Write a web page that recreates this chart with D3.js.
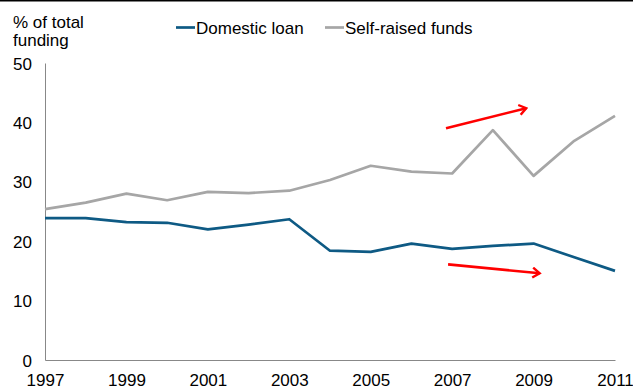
<!DOCTYPE html>
<html>
<head>
<meta charset="utf-8">
<script src="https://cdn.jsdelivr.net/npm/d3@7"></script>
<style>
  body { margin: 0; background: #fff; }
  text { font-family: "Liberation Sans", Arial, sans-serif; fill: #000; }
</style>
</head>
<body>
<svg id="chart" width="633" height="390"></svg>
<script>
// data
var years = [1997, 1998, 1999, 2000, 2001, 2002, 2003, 2004, 2005, 2006, 2007, 2008, 2009, 2010, 2011];
var domesticLoan = [23.9, 23.9, 23.2, 23.1, 22.0, 22.8, 23.7, 18.4, 18.2, 19.6, 18.7, 19.2, 19.6, 17.3, 15.0];
var selfRaised = [25.4, 26.5, 28.0, 26.9, 28.3, 28.1, 28.5, 30.3, 32.7, 31.7, 31.4, 38.7, 31.0, 36.9, 41.1];
var yTicks = [0, 10, 20, 30, 40, 50];
var xTicks = [1997, 1999, 2001, 2003, 2005, 2007, 2009, 2011];
var seriesNames = ["Domestic loan", "Self-raised funds"];
var seriesColors = ["#0e5a84", "#a6a6a6"];
// trend arrows: [x0, y0, x1, y1] in data units
var arrows = [
    [2006.85, 39.0, 2008.82, 42.4],
    [2006.9, 16.1, 2009.15, 14.6]
];

var svg = d3.select("#chart"),
    width = +svg.attr("width"),
    height = +svg.attr("height");

var x = d3.scaleLinear().domain([1997, 2011]).range([45, 615]);
var y = d3.scaleLinear().domain([0, 50]).range([360, 63]);

// black rule at top
svg.append("line")
    .attr("x1", 0).attr("x2", width)
    .attr("y1", 0.75).attr("y2", 0.75)
    .style("stroke", "#000")
    .style("stroke-width", 1.5);

// axes
var yAxis = d3.axisLeft(y).tickValues(yTicks).tickSize(0).tickPadding(13);
svg.append("g")
    .attr("transform", "translate(45,0)")
    .call(yAxis)
    .call(g => g.select(".domain").attr("stroke", "#888"))
    .call(g => g.selectAll("text").style("font-size", "17px").attr("dy", "0.36em"));

var xAxis = d3.axisBottom(x).tickValues(xTicks).tickFormat(d3.format("d")).tickSize(0).tickPadding(14);
svg.append("g")
    .attr("transform", "translate(0,360)")
    .call(xAxis)
    .call(g => g.select(".domain").attr("stroke", "#888"))
    .call(g => g.selectAll("text").style("font-size", "17px"));

// y title
svg.append("text")
    .attr("x", 13).attr("y", 28)
    .style("font-size", "17px")
    .text("% of total");
svg.append("text")
    .attr("x", 13).attr("y", 45.5)
    .style("font-size", "17px")
    .text("funding");

// lines
var line = d3.line()
    .x((d, i) => x(years[i]))
    .y(d => y(d));

[selfRaised, domesticLoan].forEach(function(s, k) {
    svg.append("path")
        .datum(s)
        .attr("fill", "none")
        .attr("stroke", k === 0 ? seriesColors[1] : seriesColors[0])
        .attr("stroke-width", 2.7)
        .attr("stroke-linejoin", "round")
        .attr("d", line);
});

// legend
var legendX = [176, 325];
seriesNames.forEach(function(n, i) {
    svg.append("line")
        .attr("x1", legendX[i]).attr("x2", legendX[i] + 19)
        .attr("y1", 27.5).attr("y2", 27.5)
        .style("stroke", seriesColors[i])
        .style("stroke-width", 2.7);
    svg.append("text")
        .attr("x", legendX[i] + 20).attr("y", 34)
        .style("font-size", "17px")
        .text(n);
});

// red arrows
svg.append("defs").append("marker")
    .attr("id", "arrowhead")
    .attr("viewBox", "0 0 12 12")
    .attr("refX", 10).attr("refY", 6)
    .attr("markerWidth", 12).attr("markerHeight", 12)
    .attr("markerUnits", "userSpaceOnUse")
    .attr("orient", "auto")
    .append("path")
    .attr("d", "M3,1 L10,6 L3,11")
    .attr("fill", "none")
    .attr("stroke", "#ff0000")
    .attr("stroke-width", 2.4);

svg.selectAll(".arrow")
    .data(arrows)
    .enter()
    .append("line")
    .attr("class", "arrow")
    .attr("x1", d => x(d[0])).attr("y1", d => y(d[1]))
    .attr("x2", d => x(d[2])).attr("y2", d => y(d[3]))
    .style("stroke", "#ff0000")
    .style("stroke-width", 2.6)
    .attr("marker-end", "url(#arrowhead)");
</script>
</body>
</html>
